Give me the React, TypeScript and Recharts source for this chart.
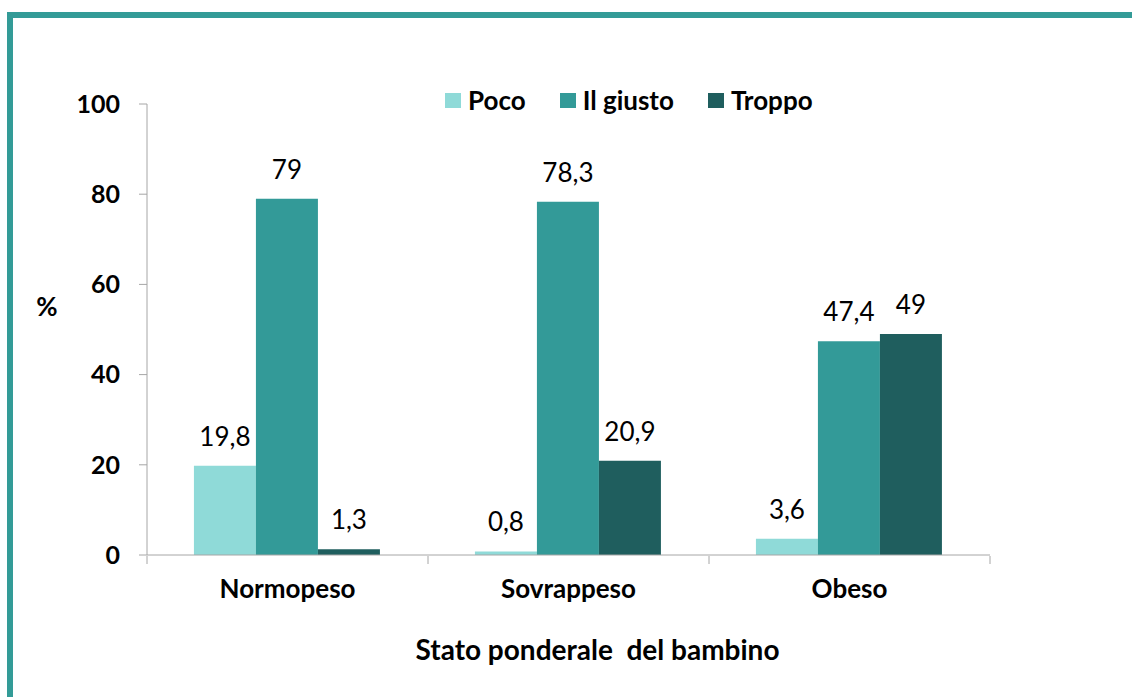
import React from 'react';
import { BarChart, Bar, XAxis, YAxis, LabelList } from 'recharts';

const categories = ['Normopeso', 'Sovrappeso', 'Obeso'];
const poco = [19.8, 0.8, 3.6];
const giusto = [79, 78.3, 47.4];
const troppo = [1.3, 20.9, 49];
const yTicks = [0, 20, 40, 60, 80, 100];
const boundaryTicks = [0, 1, 2, 3];
const seriesNames = ['Poco', 'Il giusto', 'Troppo'];
const seriesKeys = ['poco', 'giusto', 'troppo'];
const colors = ['#8fdad8', '#339a98', '#1f5e5e'];

const data = categories.map((c, i) => ({ cat: c, idx: i + 0.5, poco: poco[i], giusto: giusto[i], troppo: troppo[i] }));

const FONT = 'Lato, "Open Sans", sans-serif';
const FS = 26;
const fmt = (v: any) => String(v).replace('.', ',');

const LegendBox = () => (
  <div style={{ position: 'absolute', left: 445, top: 86, display: 'flex', alignItems: 'center', fontFamily: FONT, fontWeight: 700, fontSize: FS, color: '#000', lineHeight: '28px' }}>
    {seriesNames.map((n, i) => (
      <div key={n} style={{ display: 'flex', alignItems: 'center', marginRight: 34 }}>
        <div style={{ width: 16, height: 15, background: colors[i], marginRight: 7 }} />
        <span>{n}</span>
      </div>
    ))}
  </div>
);

export default function App() {
  return (
    <div style={{ position: 'absolute', left: 0, top: 0, width: 1132, height: 697, background: '#fff' }}>
      <div style={{ position: 'absolute', left: 7, top: 12, right: 0, bottom: 0, borderTop: '6px solid #339b97', borderLeft: '6px solid #339b97' }} />
      <div style={{ position: 'absolute', left: 0, top: 0 }}>
        <BarChart width={1132} height={697} data={data} margin={{ top: 104, right: 142, bottom: 140, left: 67 }} barCategoryGap="16.7%" barGap={0}>
          <XAxis xAxisId="b" dataKey="idx" type="number" domain={[0, 3]} ticks={boundaryTicks} height={1} axisLine={false}
            tickLine={{ stroke: '#a6a6a6' }} tickSize={8} tickFormatter={() => ''} />
          <XAxis dataKey="cat" height={1} axisLine={{ stroke: '#a6a6a6' }} tickLine={false} tickSize={0} tickMargin={25}
            tick={{ fill: '#000', fontFamily: FONT, fontWeight: 700, fontSize: FS }}
            label={{
              content: (p: any) => {
                const vb = p.viewBox || {};
                return (
                  <text x={vb.x + vb.width / 2 + 29} y={vb.y + 105} textAnchor="middle" style={{ whiteSpace: 'pre' }}
                    fontFamily={FONT} fontWeight={700} fontSize={28} fill="#000">Stato ponderale  del bambino</text>
                );
              },
            }} />
          <YAxis domain={[0, 100]} ticks={yTicks} width={80} axisLine={{ stroke: '#a6a6a6' }} tickLine={{ stroke: '#a6a6a6' }}
            tickSize={8} tickMargin={19} tick={{ fill: '#000', fontFamily: FONT, fontWeight: 700, fontSize: 25 }}
            label={{
              content: (p: any) => {
                const vb = p.viewBox || {};
                return (
                  <text x={vb.x - 20} y={vb.y + vb.height / 2 - 20} textAnchor="middle" dominantBaseline="middle"
                    fontFamily={FONT} fontWeight={700} fontSize={FS} fill="#000">%</text>
                );
              },
            }} />
          {seriesKeys.map((k, i) => (
            <Bar key={k} dataKey={k} name={seriesNames[i]} fill={colors[i]} isAnimationActive={false}>
              <LabelList dataKey={k} position="top" offset={20} formatter={fmt} fill="#000" fontFamily={FONT} fontSize={FS} />
            </Bar>
          ))}
        </BarChart>
      </div>
      <LegendBox />
    </div>
  );
}
